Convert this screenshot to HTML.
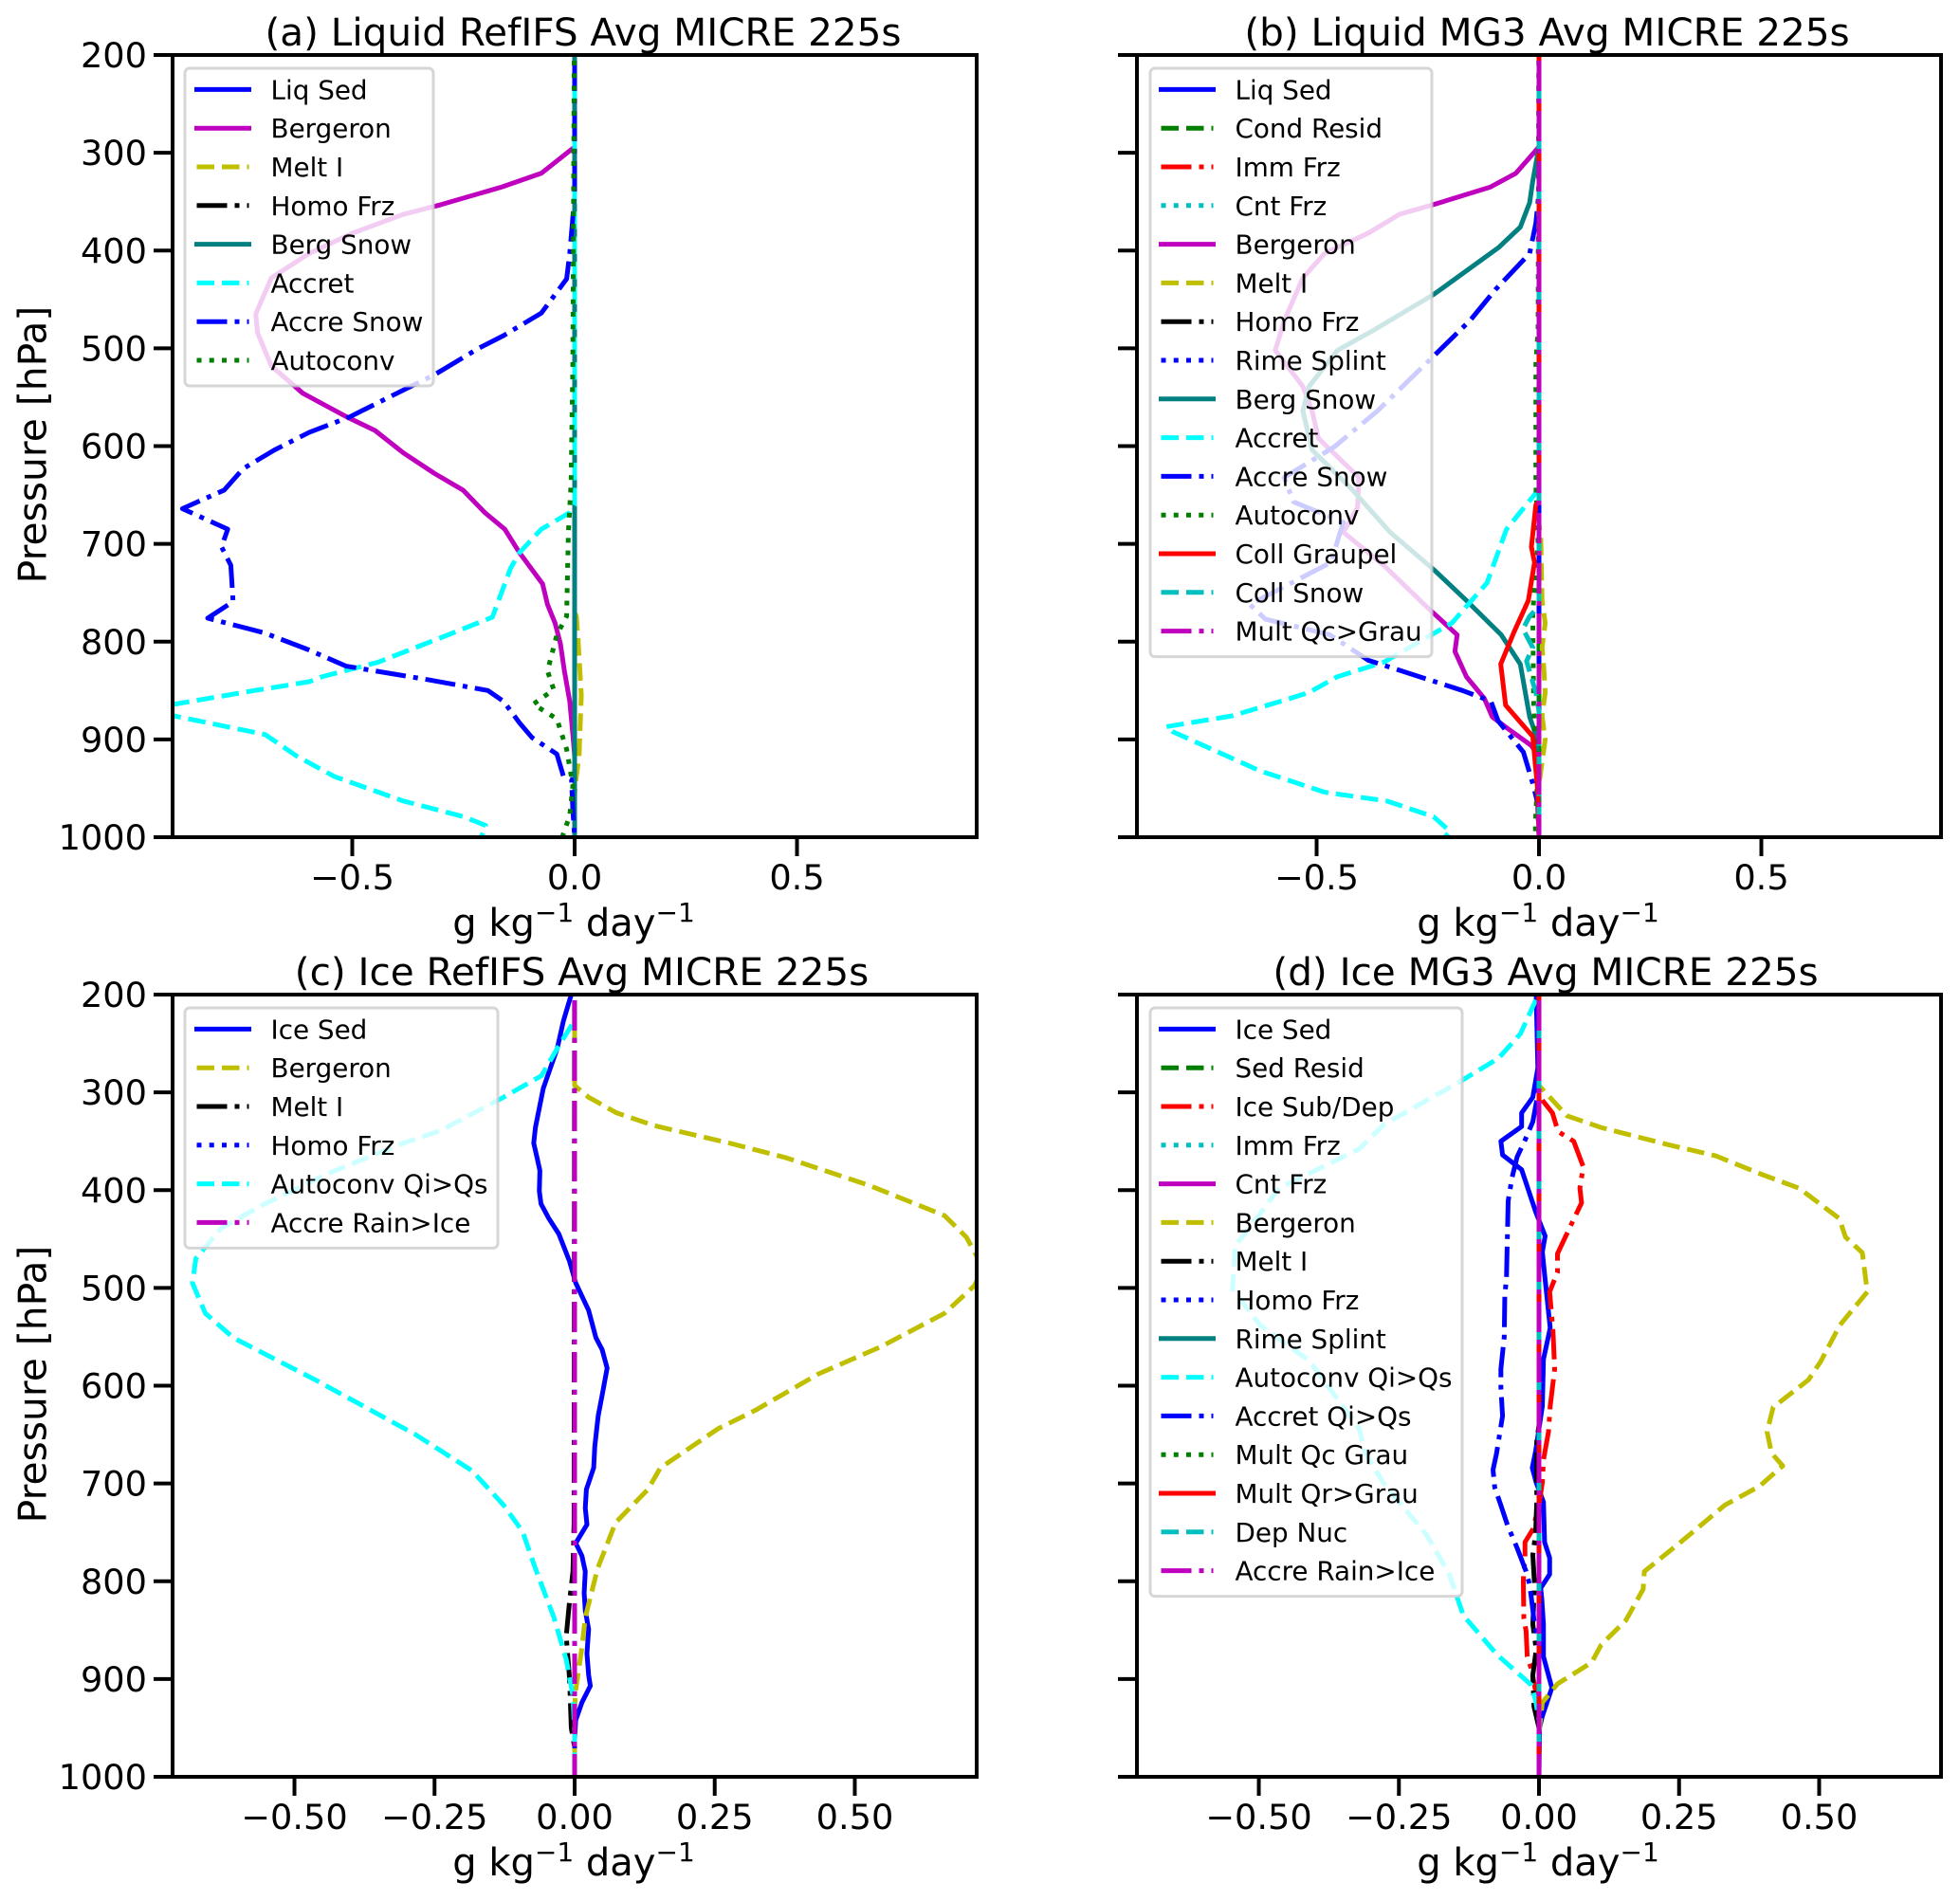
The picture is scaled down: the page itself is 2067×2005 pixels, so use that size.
<!DOCTYPE html>
<html lang="en">
<head>
<meta charset="utf-8">
<title>Liquid and Ice process rates, RefIFS and MG3</title>
<style>
html,body{margin:0;padding:0;background:#fff;}
svg{display:block;}
text{font-family:"DejaVu Sans","Liberation Sans",sans-serif;fill:#000;}
</style>
</head>
<body>
<svg id="figure" xmlns="http://www.w3.org/2000/svg" width="2067" height="2005" viewBox="0 0 2067 2005">
  <rect x="0" y="0" width="2067" height="2005" fill="#fff"/>
  <g id="panel-a"></g>
  <g id="panel-b"></g>
  <g id="panel-c"></g>
  <g id="panel-d"></g>

  <text x="615" y="48" text-anchor="middle" font-size="40.5">(a) Liquid RefIFS Avg MICRE 225s</text>
  <text x="1631.5" y="48" text-anchor="middle" font-size="40.5">(b) Liquid MG3 Avg MICRE 225s</text>
  <text x="613.5" y="1039" text-anchor="middle" font-size="40.5">(c) Ice RefIFS Avg MICRE 225s</text>
  <text x="1630" y="1039" text-anchor="middle" font-size="40.5">(d) Ice MG3 Avg MICRE 225s</text>

  <text transform="translate(48.5,469) rotate(-90)" text-anchor="middle" font-size="40.8">Pressure [hPa]</text>
  <text transform="translate(48.5,1460) rotate(-90)" text-anchor="middle" font-size="40.8">Pressure [hPa]</text>

  <text x="605" y="987" text-anchor="middle" font-size="40">g kg<tspan dy="-15" font-size="28">−1</tspan><tspan dy="15"> day</tspan><tspan dy="-15" font-size="28">−1</tspan></text>
  <text x="1622" y="987" text-anchor="middle" font-size="40">g kg<tspan dy="-15" font-size="28">−1</tspan><tspan dy="15"> day</tspan><tspan dy="-15" font-size="28">−1</tspan></text>
  <text x="605" y="1978" text-anchor="middle" font-size="40">g kg<tspan dy="-15" font-size="28">−1</tspan><tspan dy="15"> day</tspan><tspan dy="-15" font-size="28">−1</tspan></text>
  <text x="1622" y="1978" text-anchor="middle" font-size="40">g kg<tspan dy="-15" font-size="28">−1</tspan><tspan dy="15"> day</tspan><tspan dy="-15" font-size="28">−1</tspan></text>
</svg>

<script>
/* ---------- tick values and labels ---------- */
const pressureTicks = [200, 300, 400, 500, 600, 700, 800, 900, 1000];
const liquidXTicks = [-0.5, 0, 0.5];
const liquidXTickLabels = ['−0.5', '0.0', '0.5'];
const iceXTicks = [-0.5, -0.25, 0, 0.25, 0.5];
const iceXTickLabels = ['−0.50', '−0.25', '0.00', '0.25', '0.50'];
const liquidXMax = 0.904;
const iceXMax = 0.7175;
const zeroP = [103, 1000];

/* ---------- panel (a) Liquid RefIFS ---------- */
const aLiqSedV = [0, 0];
const aBergeronP = [103, 294, 321, 335, 353, 363, 382, 403, 428, 465, 484, 518, 546, 570, 584, 607, 628, 645, 668, 685, 709, 741, 762, 781, 802, 830, 861, 895, 917, 1000];
const aBergeronV = [0, 0, -0.075, -0.164, -0.30, -0.385, -0.498, -0.597, -0.682, -0.717, -0.713, -0.682, -0.611, -0.513, -0.449, -0.385, -0.315, -0.251, -0.202, -0.157, -0.124, -0.072, -0.061, -0.044, -0.032, -0.023, -0.011, -0.004, 0, 0];
const aMeltIP = [103, 770, 774, 799, 855, 917, 941, 955, 1000];
const aMeltIV = [0, 0, 0.004, 0.008, 0.015, 0.01, 0.003, 0, 0];
const aHomoFrzV = [0, 0];
const aBergSnowV = [0, 0];
const aAccretP = [103, 660, 668, 685, 709, 725, 775, 796, 821, 836, 841, 850, 864, 869, 876, 895, 917, 938, 963, 979, 988, 1000];
const aAccretV = [0, 0, -0.011, -0.075, -0.124, -0.144, -0.185, -0.301, -0.442, -0.569, -0.597, -0.72, -0.90, -0.95, -0.90, -0.696, -0.625, -0.54, -0.385, -0.25, -0.20, -0.21];
const aAccreSnowP = [103, 340, 366, 403, 429, 464, 487, 500, 527, 549, 570, 586, 604, 623, 645, 664, 685, 703, 722, 759, 776, 791, 808, 825, 839, 850, 861, 883, 898, 915, 938, 941, 972, 1000];
const aAccreSnowV = [0, 0, -0.004, -0.011, -0.018, -0.075, -0.16, -0.216, -0.315, -0.413, -0.505, -0.597, -0.675, -0.745, -0.788, -0.882, -0.78, -0.794, -0.773, -0.768, -0.825, -0.698, -0.6, -0.514, -0.329, -0.195, -0.16, -0.124, -0.096, -0.04, -0.025, -0.007, -0.004, 0];
const aAutoconvP = [103, 515, 638, 688, 774, 793, 830, 849, 864, 879, 910, 947, 978, 1000];
const aAutoconvV = [0, -0.004, -0.008, -0.014, -0.018, -0.04, -0.061, -0.047, -0.093, -0.04, -0.018, -0.004, -0.011, -0.028];

/* ---------- panel (b) Liquid MG3 ---------- */
const bLiqSedV = [0, 0];
const bCondResidV = [0, 0];
const bImmFrzV = [0, 0];
const bCntFrzV = [0, 0];
const bBergeronP = [103, 294, 321, 335, 353, 363, 382, 403, 428, 471, 502, 539, 564, 592, 632, 663, 688, 722, 765, 793, 810, 836, 858, 877, 889, 906, 917, 1000];
const bBergeronV = [0, 0, -0.052, -0.109, -0.237, -0.314, -0.383, -0.482, -0.531, -0.572, -0.593, -0.531, -0.51, -0.496, -0.405, -0.408, -0.44, -0.349, -0.251, -0.184, -0.189, -0.163, -0.123, -0.105, -0.07, -0.018, 0, 0];
const bMeltIP = [103, 680, 693, 758, 781, 806, 828, 852, 876, 900, 923, 946, 1000];
const bMeltIV = [0, 0, 0.004, 0.007, 0.014, 0.007, 0.011, 0.014, 0.007, 0.014, 0.007, 0, 0];
const bHomoFrzV = [0, 0];
const bRimeSplintV = [0, 0];
const bBergSnowP = [103, 294, 329, 351, 376, 397, 445, 481, 502, 539, 564, 604, 645, 688, 727, 758, 793, 823, 877, 890, 923, 1000];
const bBergSnowV = [0, 0, -0.014, -0.021, -0.042, -0.091, -0.237, -0.37, -0.453, -0.517, -0.531, -0.51, -0.419, -0.335, -0.235, -0.163, -0.085, -0.042, -0.021, -0.011, 0, 0];
const bAccretP = [103, 644, 685, 740, 781, 821, 836, 852, 858, 876, 887, 892, 932, 954, 963, 979, 994, 1000];
const bAccretV = [0, 0, -0.073, -0.117, -0.196, -0.349, -0.454, -0.517, -0.559, -0.691, -0.838, -0.824, -0.628, -0.482, -0.342, -0.237, -0.20, -0.212];
const bAccreSnowP = [103, 340, 372, 403, 440, 471, 508, 564, 601, 632, 657, 678, 719, 762, 777, 793, 819, 850, 861, 881, 913, 945, 965, 1000];
const bAccreSnowV = [0, 0, -0.007, -0.021, -0.098, -0.154, -0.237, -0.363, -0.461, -0.573, -0.552, -0.44, -0.468, -0.65, -0.615, -0.47, -0.384, -0.172, -0.108, -0.092, -0.035, -0.014, -0.003, 0];
const bAutoconvP = [103, 480, 515, 640, 700, 770, 860, 890, 930, 985, 1000];
const bAutoconvV = [0, -0.002, -0.007, -0.007, -0.002, -0.014, -0.012, -0.01, -0.002, -0.008, -0.008];
const bCollGraupelP = [103, 657, 660, 703, 719, 758, 790, 823, 865, 897, 951, 1000];
const bCollGraupelV = [0, 0, -0.007, -0.017, -0.01, -0.024, -0.056, -0.086, -0.075, -0.014, -0.003, 0];
const bCollSnowP = [103, 764, 774, 787, 806, 820, 852, 871, 1000];
const bCollSnowV = [0, 0, -0.021, -0.036, -0.014, -0.028, -0.007, 0, 0];
const bMultQcGrauV = [0, 0];

/* ---------- panel (c) Ice RefIFS ---------- */
const cIceSedP = [103, 200, 227, 255, 296, 336, 352, 367, 380, 401, 414, 429, 445, 473, 495, 523, 551, 563, 582, 607, 631, 662, 684, 706, 725, 742, 761, 774, 790, 812, 830, 849, 874, 896, 907, 924, 942, 961, 1000];
const cIceSedV = [0, -0.006, -0.02, -0.031, -0.056, -0.07, -0.073, -0.067, -0.062, -0.063, -0.06, -0.046, -0.028, -0.009, 0.002, 0.025, 0.038, 0.049, 0.058, 0.05, 0.042, 0.036, 0.034, 0.021, 0.019, 0.022, 0.002, 0.013, 0.019, 0.017, 0.019, 0.025, 0.022, 0.025, 0.028, 0.013, 0.002, 0, 0];
const cBergeronP = [103, 293, 305, 321, 334, 352, 367, 395, 426, 448, 470, 485, 498, 526, 560, 588, 625, 644, 684, 706, 740, 787, 837, 868, 911, 930, 1000];
const cBergeronV = [0, 0, 0.025, 0.075, 0.142, 0.277, 0.378, 0.525, 0.66, 0.699, 0.72, 0.725, 0.713, 0.66, 0.547, 0.435, 0.323, 0.256, 0.153, 0.131, 0.073, 0.041, 0.019, 0.013, 0.002, 0, 0];
const cMeltIP = [103, 740, 790, 820, 856, 900, 950, 970, 1000];
const cMeltIV = [0, -0.001, -0.003, -0.009, -0.015, -0.009, -0.006, 0, 0];
const cHomoFrzV = [0, 0];
const cAutoconvP = [103, 225, 230, 255, 283, 305, 339, 352, 383, 414, 439, 470, 495, 526, 551, 594, 650, 687, 722, 749, 787, 837, 880, 917, 955, 1000];
const cAutoconvV = [0, 0, -0.004, -0.031, -0.059, -0.127, -0.239, -0.306, -0.44, -0.553, -0.631, -0.676, -0.682, -0.659, -0.609, -0.463, -0.284, -0.183, -0.127, -0.093, -0.07, -0.037, -0.015, -0.003, 0, 0];
const cAccreRainIceV = [0, 0];

/* ---------- panel (d) Ice MG3 ---------- */
const dIceSedP = [103, 200, 275, 295, 305, 321, 335, 350, 364, 379, 422, 447, 463, 486, 541, 573, 621, 667, 684, 699, 719, 760, 776, 793, 807, 818, 844, 877, 909, 938, 950, 1000];
const dIceSedV = [0, -0.005, -0.002, -0.008, -0.011, -0.031, -0.031, -0.068, -0.065, -0.031, -0.006, 0.011, 0.006, 0.01, 0.02, 0.008, 0.006, -0.006, -0.012, -0.005, 0.008, 0.01, 0.019, 0.019, 0.003, 0.005, 0.008, 0.008, 0.023, 0.006, 0.001, 0];
const dSedResidV = [0, 0];
const dIceSubDepP = [103, 300, 308, 321, 340, 350, 376, 398, 413, 437, 465, 484, 504, 544, 583, 621, 647, 676, 699, 722, 747, 760, 776, 799, 838, 851, 877, 889, 912, 929, 1000];
const dIceSubDepV = [0, 0, 0.006, 0.024, 0.034, 0.062, 0.079, 0.073, 0.076, 0.056, 0.033, 0.033, 0.019, 0.025, 0.028, 0.02, 0.017, 0.008, 0.006, 0, -0.011, -0.025, -0.025, -0.028, -0.027, -0.023, -0.021, -0.014, -0.006, 0, 0];
const dImmFrzV = [0, 0];
const dCntFrzV = [0, 0];
const dBergeronP = [103, 293, 324, 336, 353, 365, 384, 398, 429, 448, 464, 504, 538, 575, 594, 622, 647, 669, 682, 703, 722, 759, 790, 808, 840, 865, 883, 905, 924, 955, 1000];
const dBergeronV = [0, 0, 0.05, 0.111, 0.227, 0.316, 0.398, 0.464, 0.536, 0.547, 0.577, 0.586, 0.537, 0.503, 0.481, 0.418, 0.407, 0.415, 0.435, 0.393, 0.332, 0.255, 0.188, 0.186, 0.155, 0.111, 0.094, 0.033, 0.006, 0, 0];
const dMeltIP = [103, 640, 657, 719, 751, 773, 803, 844, 870, 896, 928, 950, 1000];
const dMeltIV = [0, 0, -0.004, -0.004, -0.006, -0.011, -0.008, -0.011, -0.005, -0.011, -0.009, 0, 0];
const dHomoFrzV = [0, 0];
const dRimeSplintV = [0, 0];
const dAutoconvP = [103, 200, 206, 240, 265, 290, 333, 358, 398, 426, 457, 501, 538, 575, 644, 669, 700, 753, 793, 835, 875, 906, 922, 942, 1000];
const dAutoconvV = [0, -0.002, -0.006, -0.033, -0.072, -0.144, -0.277, -0.321, -0.464, -0.5, -0.542, -0.547, -0.498, -0.409, -0.321, -0.31, -0.277, -0.2, -0.16, -0.135, -0.075, -0.014, -0.006, 0, 0];
const dAccretP = [103, 295, 305, 330, 349, 366, 387, 411, 437, 489, 508, 550, 583, 602, 631, 670, 686, 704, 719, 743, 766, 790, 803, 815, 844, 864, 1000];
const dAccretV = [0, 0, -0.003, -0.011, -0.025, -0.039, -0.048, -0.055, -0.056, -0.058, -0.061, -0.062, -0.068, -0.068, -0.065, -0.076, -0.082, -0.079, -0.07, -0.056, -0.039, -0.023, -0.017, -0.014, -0.008, 0, 0];
const dMultQcGrauV = [0, 0];
const dMultQrGrauV = [0, 0];
const dDepNucV = [0, 0];
const dAccreRainIceV = [0, 0];

/* ---------- line styles (matplotlib-like patterns at 5px width) ---------- */
const LINE_WIDTH = 5;
const DASHES = { solid: null, dashed: '18.5 8', dashdot: '32 8 5 8', dotted: '5 8.25' };
const BLUE = '#0000ff', MAG = '#bf00bf', YEL = '#bfbf00', BLK = '#000000', TEAL = '#008080',
      CYAN = '#00ffff', GRN = '#007f00', RED = '#ff0000', DCY = '#00bfbf';

const panels = [
  { id: 'panel-a', key: 'a', left: 182, right: 1030, top: 58, bottom: 883, xMax: liquidXMax,
    xTicks: liquidXTicks, xLabels: liquidXTickLabels, yLabels: true,
    legend: { left: 195, right: 457, top: 72 },
    series: [
      { label: 'Liq Sed', style: 'solid', color: BLUE, p: zeroP, v: aLiqSedV },
      { label: 'Bergeron', style: 'solid', color: MAG, p: aBergeronP, v: aBergeronV },
      { label: 'Melt I', style: 'dashed', color: YEL, p: aMeltIP, v: aMeltIV },
      { label: 'Homo Frz', style: 'dashdot', color: BLK, p: zeroP, v: aHomoFrzV },
      { label: 'Berg Snow', style: 'solid', color: TEAL, p: zeroP, v: aBergSnowV },
      { label: 'Accret', style: 'dashed', color: CYAN, p: aAccretP, v: aAccretV },
      { label: 'Accre Snow', style: 'dashdot', color: BLUE, p: aAccreSnowP, v: aAccreSnowV },
      { label: 'Autoconv', style: 'dotted', color: GRN, p: aAutoconvP, v: aAutoconvV }
    ] },
  { id: 'panel-b', key: 'b', left: 1199, right: 2047, top: 58, bottom: 883, xMax: liquidXMax,
    xTicks: liquidXTicks, xLabels: liquidXTickLabels, yLabels: false,
    legend: { left: 1213, right: 1510, top: 72 },
    series: [
      { label: 'Liq Sed', style: 'solid', color: BLUE, p: zeroP, v: bLiqSedV },
      { label: 'Cond Resid', style: 'dashed', color: GRN, p: zeroP, v: bCondResidV },
      { label: 'Imm Frz', style: 'dashdot', color: RED, p: zeroP, v: bImmFrzV },
      { label: 'Cnt Frz', style: 'dotted', color: DCY, p: zeroP, v: bCntFrzV },
      { label: 'Bergeron', style: 'solid', color: MAG, p: bBergeronP, v: bBergeronV },
      { label: 'Melt I', style: 'dashed', color: YEL, p: bMeltIP, v: bMeltIV },
      { label: 'Homo Frz', style: 'dashdot', color: BLK, p: zeroP, v: bHomoFrzV },
      { label: 'Rime Splint', style: 'dotted', color: BLUE, p: zeroP, v: bRimeSplintV },
      { label: 'Berg Snow', style: 'solid', color: TEAL, p: bBergSnowP, v: bBergSnowV },
      { label: 'Accret', style: 'dashed', color: CYAN, p: bAccretP, v: bAccretV },
      { label: 'Accre Snow', style: 'dashdot', color: BLUE, p: bAccreSnowP, v: bAccreSnowV },
      { label: 'Autoconv', style: 'dotted', color: GRN, p: bAutoconvP, v: bAutoconvV },
      { label: 'Coll Graupel', style: 'solid', color: RED, p: bCollGraupelP, v: bCollGraupelV },
      { label: 'Coll Snow', style: 'dashed', color: DCY, p: bCollSnowP, v: bCollSnowV },
      { label: 'Mult Qc>Grau', style: 'dashdot', color: MAG, p: zeroP, v: bMultQcGrauV }
    ] },
  { id: 'panel-c', key: 'c', left: 182, right: 1030, top: 1049, bottom: 1874, xMax: iceXMax,
    xTicks: iceXTicks, xLabels: iceXTickLabels, yLabels: true,
    legend: { left: 195, right: 525, top: 1063 },
    series: [
      { label: 'Ice Sed', style: 'solid', color: BLUE, p: cIceSedP, v: cIceSedV },
      { label: 'Bergeron', style: 'dashed', color: YEL, p: cBergeronP, v: cBergeronV },
      { label: 'Melt I', style: 'dashdot', color: BLK, p: cMeltIP, v: cMeltIV },
      { label: 'Homo Frz', style: 'dotted', color: BLUE, p: zeroP, v: cHomoFrzV },
      { label: 'Autoconv Qi>Qs', style: 'dashed', color: CYAN, p: cAutoconvP, v: cAutoconvV },
      { label: 'Accre Rain>Ice', style: 'dashdot', color: MAG, p: zeroP, v: cAccreRainIceV }
    ] },
  { id: 'panel-d', key: 'd', left: 1199, right: 2047, top: 1049, bottom: 1874, xMax: iceXMax,
    xTicks: iceXTicks, xLabels: iceXTickLabels, yLabels: false,
    legend: { left: 1213, right: 1542, top: 1063 },
    series: [
      { label: 'Ice Sed', style: 'solid', color: BLUE, p: dIceSedP, v: dIceSedV },
      { label: 'Sed Resid', style: 'dashed', color: GRN, p: zeroP, v: dSedResidV },
      { label: 'Ice Sub/Dep', style: 'dashdot', color: RED, p: dIceSubDepP, v: dIceSubDepV },
      { label: 'Imm Frz', style: 'dotted', color: DCY, p: zeroP, v: dImmFrzV },
      { label: 'Cnt Frz', style: 'solid', color: MAG, p: zeroP, v: dCntFrzV },
      { label: 'Bergeron', style: 'dashed', color: YEL, p: dBergeronP, v: dBergeronV },
      { label: 'Melt I', style: 'dashdot', color: BLK, p: dMeltIP, v: dMeltIV },
      { label: 'Homo Frz', style: 'dotted', color: BLUE, p: zeroP, v: dHomoFrzV },
      { label: 'Rime Splint', style: 'solid', color: TEAL, p: zeroP, v: dRimeSplintV },
      { label: 'Autoconv Qi>Qs', style: 'dashed', color: CYAN, p: dAutoconvP, v: dAutoconvV },
      { label: 'Accret Qi>Qs', style: 'dashdot', color: BLUE, p: dAccretP, v: dAccretV },
      { label: 'Mult Qc Grau', style: 'dotted', color: GRN, p: zeroP, v: dMultQcGrauV },
      { label: 'Mult Qr>Grau', style: 'solid', color: RED, p: zeroP, v: dMultQrGrauV },
      { label: 'Dep Nuc', style: 'dashed', color: DCY, p: zeroP, v: dDepNucV },
      { label: 'Accre Rain>Ice', style: 'dashdot', color: MAG, p: zeroP, v: dAccreRainIceV }
    ] }
];

const NS = 'http://www.w3.org/2000/svg';
function slug(s) {
  return s.toLowerCase().replace(/[^a-z0-9]+/g, '-').replace(/^-|-$/g, '');
}
function make(tag, attrs, parent) {
  const el = document.createElementNS(NS, tag);
  for (const k in attrs) el.setAttribute(k, attrs[k]);
  parent.appendChild(el);
  return el;
}
function xScale(panel, value) {
  const mid = (panel.left + panel.right) / 2;
  return mid + value * (panel.right - panel.left) / (2 * panel.xMax);
}
function yScale(panel, pressure) {
  return panel.top + (pressure - 200) * (panel.bottom - panel.top) / 800;
}

const svg = document.getElementById('figure');
const defs = make('defs', {}, svg);

panels.forEach(function (panel) {
  const g = document.getElementById(panel.id);
  const w = panel.right - panel.left, h = panel.bottom - panel.top;

  const clip = make('clipPath', { id: 'clip-' + panel.key }, defs);
  make('rect', { x: panel.left, y: panel.top, width: w, height: h }, clip);

  /* series */
  const plot = make('g', { 'clip-path': 'url(#clip-' + panel.key + ')' }, g);
  
  
  panel.series.forEach(function (s) {
    const pts = s.v.map(function (val, i) {
      return xScale(panel, val).toFixed(2) + ',' + yScale(panel, s.p[i]).toFixed(2);
    }).join(' ');
    const line = make('polyline', {
      points: pts, fill: 'none', stroke: s.color, 'stroke-width': LINE_WIDTH,
      'stroke-linejoin': 'round', 'stroke-linecap': 'butt'
    }, plot);
    if (DASHES[s.style]) line.setAttribute('stroke-dasharray', DASHES[s.style]);
    
    
  });

  /* frame */
  const frame = make('rect', {
    x: panel.left, y: panel.top, width: w, height: h,
    fill: 'none', stroke: '#000', 'stroke-width': 4
  }, g);
  
  

  /* y ticks */
  pressureTicks.forEach(function (t) {
    const y = yScale(panel, t);
    const tick = make('line', {
      x1: panel.left - 20, x2: panel.left, y1: y, y2: y, stroke: '#000', 'stroke-width': 4
    }, g);
    
    
    if (panel.yLabels) {
      const lab = make('text', {
        x: panel.left - 27, y: y + 13, 'text-anchor': 'end', 'font-size': 36.7
      }, g);
      lab.textContent = String(t);
      
      
    }
  });

  /* x ticks */
  panel.xTicks.forEach(function (t, i) {
    const x = xScale(panel, t);
    const tick = make('line', {
      x1: x, x2: x, y1: panel.bottom, y2: panel.bottom + 20, stroke: '#000', 'stroke-width': 4
    }, g);
    
    
    const lab = make('text', {
      x: x, y: panel.bottom + 55, 'text-anchor': 'middle', 'font-size': 36.7
    }, g);
    lab.textContent = panel.xLabels[i];
    
    
  });

  /* legend */
  const legend = make('g', {}, g);
  
  
  const firstRow = panel.legend.top + 22.4;
  const rowStep = 40.8;
  const lastRow = firstRow + (panel.series.length - 1) * rowStep;
  const box = make('rect', {
    x: panel.legend.left, y: panel.legend.top,
    width: panel.legend.right - panel.legend.left,
    height: lastRow + 27 - panel.legend.top,
    rx: 5, ry: 5, fill: '#fff', 'fill-opacity': 0.8,
    stroke: '#ccc', 'stroke-opacity': 0.8, 'stroke-width': 3
  }, legend);
  
  
  const hx = panel.left + 25.5;
  panel.series.forEach(function (s, i) {
    const y = firstRow + i * rowStep;
    const handle = make('line', {
      x1: hx, x2: hx + 55, y1: y, y2: y, stroke: s.color, 'stroke-width': LINE_WIDTH,
      'stroke-linecap': s.style === 'solid' ? 'square' : 'butt'
    }, legend);
    if (DASHES[s.style]) handle.setAttribute('stroke-dasharray', DASHES[s.style]);
    
    
    const txt = make('text', { x: hx + 78, y: y + 10, 'font-size': 27.8 }, legend);
    txt.textContent = s.label;
    
    
  });
});
</script>
</body>
</html>
